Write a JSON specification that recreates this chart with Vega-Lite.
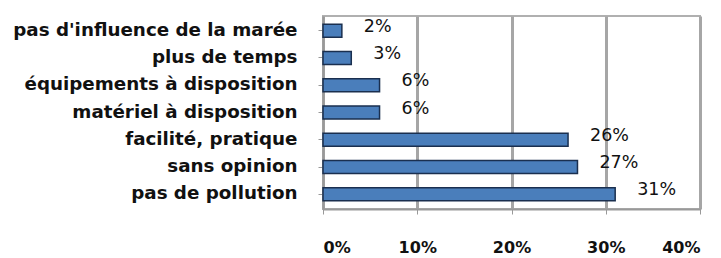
{
  "$schema": "https://vega.github.io/schema/vega-lite/v6.json",
  "autosize": "none",
  "width": 377,
  "height": 193,
  "padding": {"left": 323, "top": 16, "right": 21, "bottom": 49},
  "background": "white",
  "view": {"stroke": "#b0b0b0", "strokeWidth": 2},
  "data": {"values": [
    {"raison": "pas d'influence de la marée", "part": 0.02},
    {"raison": "plus de temps", "part": 0.03},
    {"raison": "équipements à disposition", "part": 0.06},
    {"raison": "matériel à disposition", "part": 0.06},
    {"raison": "facilité, pratique", "part": 0.26},
    {"raison": "sans opinion", "part": 0.27},
    {"raison": "pas de pollution", "part": 0.31}
  ]},
  "encoding": {
    "y": {"field": "raison", "type": "nominal", "sort": null,
      "scale": {"paddingInner": 0.52, "paddingOuter": 0.3},
      "axis": {"title": null, "labelFont": "DejaVu Sans", "labelFontWeight": "bold", "labelFontSize": 18.3, "labelColor": "#111", "labelPadding": 21, "tickSize": 5, "tickColor": "#999", "domainColor": "#999", "domainWidth": 2, "labelLimit": 320}},
    "x": {"field": "part", "type": "quantitative",
      "scale": {"domain": [0, 0.4]},
      "axis": {"title": null, "format": ".0%", "values": [0, 0.1, 0.2, 0.3, 0.4], "labelFont": "DejaVu Sans", "labelFontWeight": "bold", "labelFontSize": 16, "labelColor": "#111", "labelPadding": 25, "tickSize": 5, "tickColor": "#999", "domainColor": "#999", "domainWidth": 2, "grid": true, "gridColor": "#a6a6a6", "gridWidth": 3}}
  },
  "layer": [
    {"mark": {"type": "bar", "fill": "#4a7ebb", "stroke": "#1a2f4f", "strokeWidth": 1.5}},
    {"mark": {"type": "text", "align": "left", "dx": 22, "dy": -4, "font": "DejaVu Sans", "fontSize": 17.5, "fontWeight": "normal", "fill": "#111"},
     "encoding": {"text": {"field": "part", "type": "quantitative", "format": ".0%"}}}
  ]
}
